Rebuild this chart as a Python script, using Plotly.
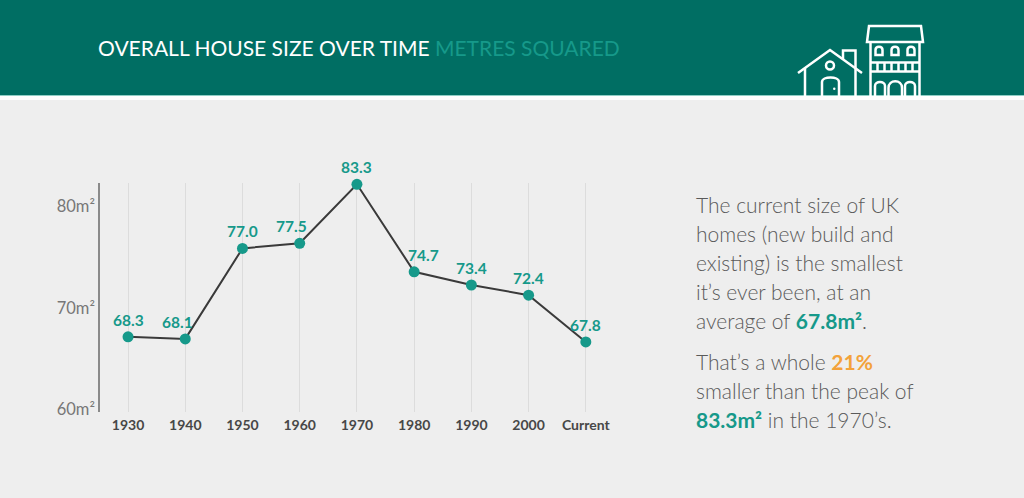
import plotly.graph_objects as go

W, H = 1024, 498

# chart data
periods = ['1930', '1940', '1950', '1960', '1970', '1980', '1990', '2000', 'Current']
sizes = [68.3, 68.1, 77.0, 77.5, 83.3, 74.7, 73.4, 72.4, 67.8]
tick_values = [60, 70, 80]
tick_labels = ['60m²', '70m²', '80m²']

# the original infographic draws its axis labels ~1.26 below the plotted values
TICK_SHIFT = 1.26

TEAL_DARK = '#006E63'
TEAL = '#16998A'
ORANGE = '#F3A23A'
GREY_TXT = '#5A5A5A'
FONT = 'Lato'


def fx(px):
    return px / W


def fy(py):
    return 1 - py / H


def path(points, close=False):
    # pixel points -> svg path in paper coords
    d = 'M ' + ' L '.join(f'{fx(x):.5f},{fy(y):.5f}' for x, y in points)
    return d + (' Z' if close else '')


def arch(x0, x1, ybot, yspring, yctrl):
    # arched opening: straight sides with a bezier top
    return (f'M {fx(x0):.5f},{fy(ybot):.5f} L {fx(x0):.5f},{fy(yspring):.5f} '
            f'C {fx(x0):.5f},{fy(yctrl):.5f} {fx(x1):.5f},{fy(yctrl):.5f} {fx(x1):.5f},{fy(yspring):.5f} '
            f'L {fx(x1):.5f},{fy(ybot):.5f}')


fig = go.Figure()

fig.add_trace(go.Scatter(
    x=periods, y=sizes,
    mode='lines+markers',
    line=dict(color='#3A3A3A', width=2),
    marker=dict(color=TEAL, size=11),
    cliponaxis=False,
    hoverinfo='skip',
    showlegend=False,
))

shapes = []
# header band
shapes.append(dict(type='rect', xref='paper', yref='paper', x0=0, x1=1, y0=fy(95), y1=1,
                   fillcolor=TEAL_DARK, line_width=0, layer='below'))
shapes.append(dict(type='rect', xref='paper', yref='paper', x0=0, x1=1, y0=fy(100), y1=fy(95),
                   fillcolor='white', line_width=0, layer='below'))
shapes.append(dict(type='line', xref='paper', yref='paper', x0=0, x1=1, y0=fy(95.5), y1=fy(95.5),
                   line=dict(color='#8FCFC6', width=1), layer='below'))

icon = dict(type='path', xref='paper', yref='paper', line=dict(color='white', width=2.5))
# small house
house_paths = [
    path([(798, 73), (830, 50), (862, 73)]),
    path([(843, 59.3), (843, 50.5), (855.5, 50.5), (855.5, 96)]),
    path([(805, 68), (805, 96)]),
    arch(822, 839, 96, 82, 76),
]
# town house
house_paths += [
    path([(867, 42), (869, 26), (921, 26), (923, 42)], close=True),
    path([(870.5, 42), (870.5, 96)]),
    path([(919.5, 42), (919.5, 96)]),
    path([(870.5, 62.5), (919.5, 62.5)]),
    path([(870.5, 71.5), (919.5, 71.5)]),
]
for cx in (879, 895, 911):
    house_paths.append(arch(cx - 3.5, cx + 3.5, 55, 50, 45.5) + ' Z')
for bx in (877.5, 884.5, 891.5, 898.5, 905.5, 912.5):
    house_paths.append(path([(bx, 62.5), (bx, 71.5)]))
house_paths += [
    arch(875, 885, 96, 86, 80.5),
    arch(888.5, 902, 96, 88, 79),
    arch(905, 915, 96, 86, 80.5),
]
for p in house_paths:
    shapes.append(dict(icon, path=p))
shapes.append(dict(type='circle', xref='paper', yref='paper',
                   x0=fx(826), x1=fx(834), y0=fy(69.5), y1=fy(61.5),
                   line=dict(color='white', width=2.5)))
shapes.append(dict(type='circle', xref='paper', yref='paper',
                   x0=fx(833), x1=fx(835.5), y0=fy(90), y1=fy(87.5),
                   fillcolor='white', line_width=0))

annotations = [dict(
    xref='paper', yref='paper', x=fx(96), y=fy(48), xanchor='left', yanchor='middle',
    text=f"OVERALL HOUSE SIZE OVER TIME <span style='color:{TEAL}'>METRES SQUARED</span>",
    font=dict(family=FONT, size=21, color='white', weight=400), showarrow=False,
)]

# value labels above each point (category axis -> use the category index)
# nudge a label sideways when a steep segment would run through it
for i, v in enumerate(sizes):
    dx = 0
    if i + 1 < len(sizes) and sizes[i + 1] - v > 5:
        dx = -8
    elif i > 0 and sizes[i - 1] - v > 5:
        dx = 9
    annotations.append(dict(
        x=i, y=v, xref='x', yref='y', text=f'{v:.1f}', showarrow=False,
        yanchor='middle', yshift=17, xshift=dx,
        font=dict(family=FONT, size=15.5, color=TEAL, weight=700),
    ))

side_lines = [
    (204, 'The current size of UK'),
    (233, 'homes (new build and'),
    (262, 'existing) is the smallest'),
    (291, "it’s ever been, at an"),
    (320, f"average of <span style='color:{TEAL}'><b>67.8m²</b></span>."),
    (361, f"That’s a whole <span style='color:{ORANGE}'><b>21%</b></span>"),
    (390, 'smaller than the peak of'),
    (419, f"<span style='color:{TEAL}'><b>83.3m²</b></span> in the 1970’s."),
]
for ypx, txt in side_lines:
    annotations.append(dict(
        xref='paper', yref='paper', x=fx(694), y=fy(ypx), xanchor='left', yanchor='middle',
        text=txt, showarrow=False,
        font=dict(family=FONT, size=21, color=GREY_TXT, weight=300),
    ))

fig.update_layout(
    width=W, height=H,
    margin=dict(l=0, r=0, t=0, b=0, autoexpand=False),
    paper_bgcolor='#EEEEEE',
    plot_bgcolor='rgba(0,0,0,0)',
    font=dict(family=FONT, color=GREY_TXT),
    shapes=shapes,
    annotations=annotations,
    hovermode=False,
    xaxis=dict(
        type='category', domain=[fx(100), fx(615)], range=[-0.49, 8.51],
        showgrid=True, gridcolor='#DCDCDC', gridwidth=1,
        showline=False, zeroline=False, ticks='', ticklabelstandoff=3,
        tickfont=dict(family=FONT, size=14, color='#474747', weight=700),
        automargin=False, fixedrange=True,
    ),
    yaxis=dict(
        domain=[fy(411.7), fy(183.3)], range=[60.94, 83.4],
        tickvals=[v + TICK_SHIFT for v in tick_values], ticktext=tick_labels,
        showgrid=False, zeroline=False,
        showline=True, linecolor='#8A8A8A', linewidth=1.5, ticks='',
        ticklabelstandoff=0, ticklabelshift=1,
        tickfont=dict(family=FONT, size=16.5, color='#777777', weight=400),
        automargin=False, fixedrange=True,
    ),
)

fig.write_html('out.html', config={'displayModeBar': False},
               post_script="document.body.style.margin='0px';")
